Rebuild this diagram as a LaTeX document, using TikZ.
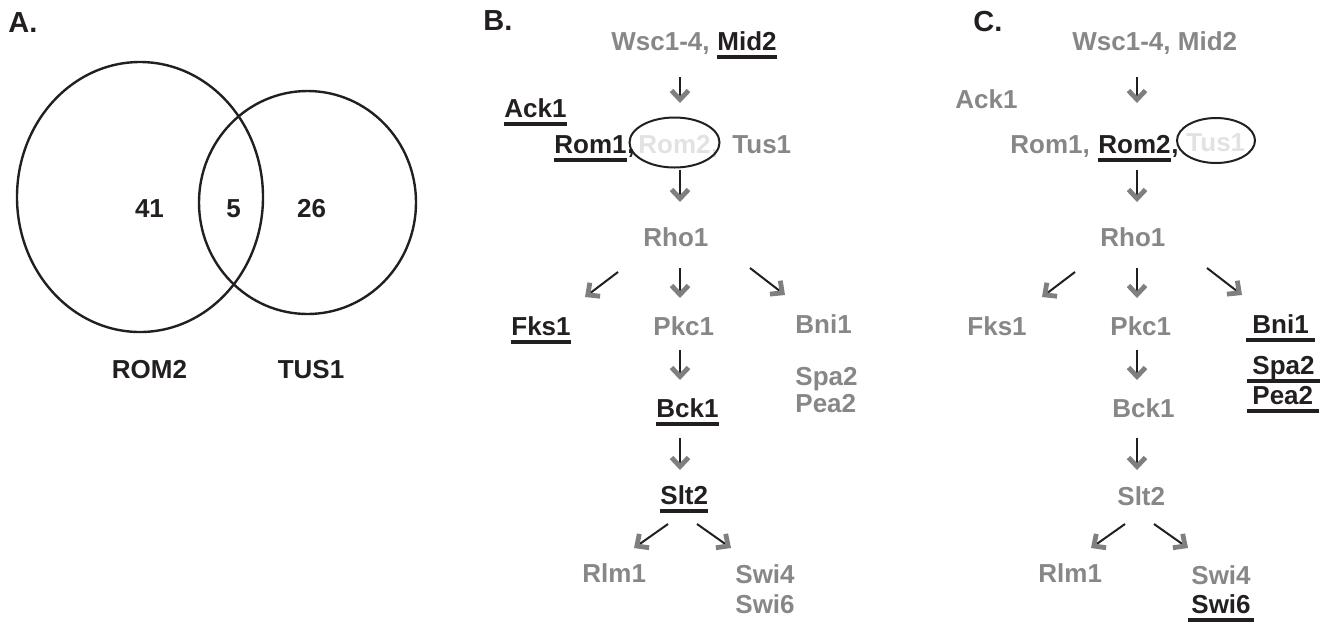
\documentclass[tikz,border=0pt]{standalone}
\usepackage{fontspec}
\setmainfont{Liberation Sans}
\usetikzlibrary{arrows.meta,shapes.geometric}
\definecolor{tdark}{HTML}{231F20}
\definecolor{tgrey}{HTML}{878787}
\definecolor{tfaint}{HTML}{E2E2E2}
\definecolor{agrey}{HTML}{7F7F7F}
\newcommand{\lbl}{\fontsize{13pt}{15pt}\selectfont\bfseries}
\newcommand{\panelfont}{\fontsize{14.5pt}{17pt}\selectfont\bfseries}
% underline bar below a named text node (optional overhang on both sides)
\newcommand{\ulbar}[2][0]{\draw[ulrule] ([shift={(-#1,7)}]#2.base west) -- ([shift={(#1,7)}]#2.base east);}
\tikzset{
  txt/.style={font=\lbl, anchor=base west, inner sep=0pt},
  gtxt/.style={txt, text=tgrey},
  dtxt/.style={txt, text=tdark},
  ftxt/.style={txt, text=tfaint},
  ulrule/.style={draw=tdark, line width=2pt},
  flow/.style={draw=tdark, line width=1pt,
    -{Straight Barb[length=4.5pt, width=8.5pt, line width=2.4pt, sharp, color=agrey]}},
  hl/.style={ellipse, draw=tdark, line width=1pt, inner sep=0pt},
  venn/.style={draw=tdark, line width=1.2pt},
  num/.style={font=\lbl, text=tdark, anchor=base, inner sep=0pt},
  panel/.style={font=\panelfont, text=tdark, anchor=base west, inner sep=0pt},
}
\begin{document}
\begin{tikzpicture}[x=0.5pt, y=-0.5pt]
\useasboundingbox (0,0) rectangle (1327,629);

% ---------------- A: Venn diagram ----------------
\node[panel] (labA) at (8,32) {A.};
\draw[venn] (140,197) ellipse [x radius=123, y radius=135];
\draw[venn] (307.5,202.5) ellipse [x radius=108.5, y radius=111.5];
\node[num] (n41) at (149.5,217) {41};
\node[num] (n5) at (233.5,217) {5};
\node[num] (n26) at (311.5,217) {26};
\node[num] (setR) at (149.5,378) {ROM2};
\node[num] (setT) at (311,378) {TUS1};

% ---------------- B: rom2 pathway ----------------
\node[panel] (labB) at (483,30) {B.};
\node[gtxt] (wscB) at (611,50) {Wsc1-4,};
\node[dtxt] (midB) at (717,50) {Mid2};
\node[dtxt] (ackB) at (504,117) {Ack1};
\node[dtxt] (rom1B) at (554,153) {Rom1};
\node[dtxt] (comB) at (rom1B.base east) {,};
\node[ftxt] (rom2B) at (638,153) {Rom2};
\node[ftxt] (com2B) at (rom2B.base east) {,};
\node[gtxt] (tusB) at (732,153) {Tus1};
\node[hl, minimum width=45pt, minimum height=25pt] (hlB) at (674.5,142.5) {};
\node[gtxt] (rhoB) at (643,246) {Rho1};
\node[dtxt] (fksB) at (511,335) {Fks1};
\node[gtxt] (pkcB) at (653,335) {Pkc1};
\node[gtxt] (bniB) at (795,333) {Bni1};
\node[gtxt] (spaB) at (795,385) {Spa2};
\node[gtxt] (peaB) at (795,412) {Pea2};
\node[dtxt] (bckB) at (656,417) {Bck1};
\node[dtxt] (sltB) at (660,504) {Slt2};
\node[gtxt] (rlmB) at (582,582) {Rlm1};
\node[gtxt] (swi4B) at (735,583) {Swi4};
\node[gtxt] (swi6B) at (735,613) {Swi6};

\ulbar{midB}
\ulbar{ackB}
\ulbar{rom1B}
\ulbar{fksB}
\ulbar{bckB}
\ulbar{sltB}

\draw[flow] ([shift={(69,27)}]wscB.base west) -- ([shift={(42,-50)}]rom2B.base west);
\draw[flow] ([shift={(42,17)}]rom2B.base west) -- ([shift={(37,-44)}]rhoB.base west);
\draw[flow] ([shift={(-25,26)}]rhoB.base west) -- ([shift={(74,-38)}]fksB.base west);
\draw[flow] ([shift={(37,22)}]rhoB.base west) -- ([shift={(27,-37)}]pkcB.base west);
\draw[flow] ([shift={(107,22)}]rhoB.base west) -- ([shift={(-10,-38)}]bniB.base west);
\draw[flow] ([shift={(27,15)}]pkcB.base west) -- ([shift={(24,-37)}]bckB.base west);
\draw[flow] ([shift={(24,21)}]bckB.base west) -- ([shift={(20,-34)}]sltB.base west);
\draw[flow] ([shift={(8,20)}]sltB.base west) -- ([shift={(52,-34)}]rlmB.base west);
\draw[flow] ([shift={(37,20)}]sltB.base west) -- ([shift={(-4,-35)}]swi4B.base west);

% ---------------- C: tus1 pathway ----------------
\node[panel] (labC) at (973,31) {C.};
\begin{scope}[shift={(457,0)}]
\node[gtxt] (wscC) at (615,50) {Wsc1-4, Mid2};
\node[gtxt] (ackC) at (498,108) {Ack1};
\node[gtxt] (rom1C) at (553,153) {Rom1,};
\node[dtxt] (rom2C) at (641,153) {Rom2};
\node[dtxt] (comC) at (rom2C.base east) {,};
\node[hl, minimum width=39pt, minimum height=22.5pt] (hlC) at (759,140.5) {};
\node[ftxt] (tusC) at (729,151) {Tus1};
\node[gtxt] (rhoC) at (643,246) {Rho1};
\node[gtxt] (fksC) at (510,335) {Fks1};
\node[gtxt] (pkcC) at (653,335) {Pkc1};
\node[dtxt] (bniC) at (795,333) {Bni1};
\node[dtxt] (spaC) at (795,374) {Spa2};
\node[dtxt] (peaC) at (795,404) {Pea2};
\node[gtxt] (bckC) at (655,417) {Bck1};
\node[gtxt] (sltC) at (660,505) {Slt2};
\node[gtxt] (rlmC) at (581,582) {Rlm1};
\node[gtxt] (swi4C) at (734,584) {Swi4};
\node[dtxt] (swi6C) at (734,613) {Swi6};

\ulbar{rom2C}
\ulbar[6]{bniC}
\ulbar[5]{spaC}
\ulbar[5]{peaC}
\ulbar[3]{swi6C}

\draw[flow] ([shift={(65,27)}]wscC.base west) -- ([shift={(39,-50)}]rom2C.base west);
\draw[flow] ([shift={(39,17)}]rom2C.base west) -- ([shift={(37,-44)}]rhoC.base west);
\draw[flow] ([shift={(-25,26)}]rhoC.base west) -- ([shift={(75,-38)}]fksC.base west);
\draw[flow] ([shift={(37,22)}]rhoC.base west) -- ([shift={(27,-37)}]pkcC.base west);
\draw[flow] ([shift={(107,22)}]rhoC.base west) -- ([shift={(-10,-38)}]bniC.base west);
\draw[flow] ([shift={(27,15)}]pkcC.base west) -- ([shift={(25,-37)}]bckC.base west);
\draw[flow] ([shift={(25,21)}]bckC.base west) -- ([shift={(20,-35)}]sltC.base west);
\draw[flow] ([shift={(8,19)}]sltC.base west) -- ([shift={(53,-34)}]rlmC.base west);
\draw[flow] ([shift={(37,19)}]sltC.base west) -- ([shift={(-3,-36)}]swi4C.base west);
\end{scope}
\end{tikzpicture}
\end{document}
